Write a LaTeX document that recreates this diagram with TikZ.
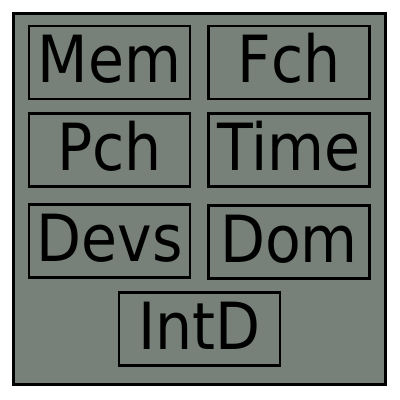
\documentclass[tikz,border=0pt]{standalone}
\usepackage{fontspec}
\newfontfamily\tagfont{DejaVu Sans Condensed}
\definecolor{panelgrey}{HTML}{778079}
\definecolor{inkline}{HTML}{000000}

\begin{document}
\begin{tikzpicture}[
  x=1pt, y=-1pt,
  panel/.style={draw=inkline, line width=3pt, fill=panelgrey, inner sep=0pt},
  tag/.style={draw=inkline, line width=2.4pt, inner sep=0pt,
              minimum width=161pt, minimum height=73pt,
              font=\tagfont\fontsize{65}{70}\selectfont,
              text height=52pt, text depth=12pt},
]
\useasboundingbox (0,0) rectangle (400,400);

% ---- frame ----
\node[panel, minimum width=372pt, minimum height=371pt] (frame) at (199.5,198.5) {};

% ---- tags, two columns ----
\node[tag] (mem)  at (109.5,62.5) {Mem};
\node[tag] (fch)  at (289,62.5)   {Fch};
\node[tag] (pch)  at (109.5,150)  {Pch};
\node[tag] (time) at (289,150)    {Time};
\node[tag] (devs) at (109.5,241)  {Devs};
\node[tag] (dom)  at (289,242)    {Dom};

% ---- last row ----
\node[tag] (intd) at (199.5,329)  {IntD};

\end{tikzpicture}
\end{document}
